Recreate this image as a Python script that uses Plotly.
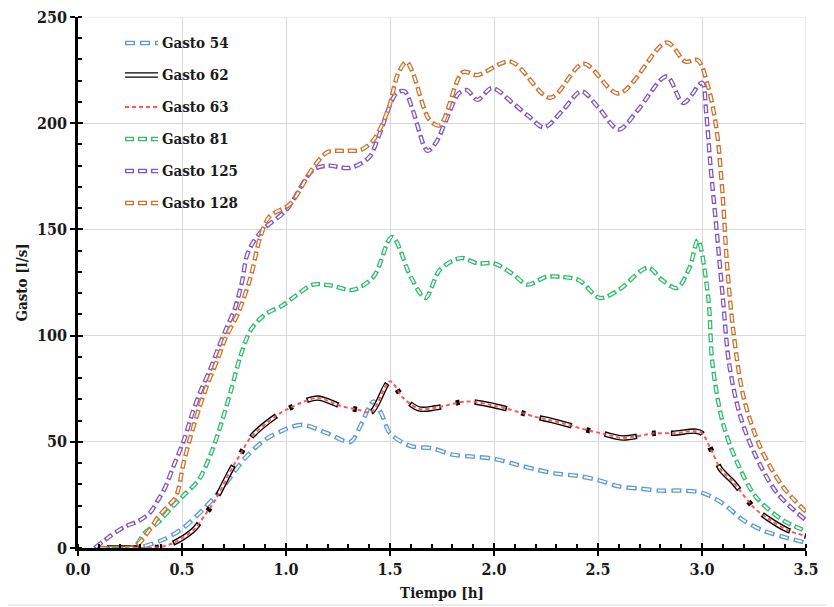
import plotly.graph_objects as go

# ---------------- data ----------------
t54 = [0.1, 0.2, 0.3, 0.4, 0.5, 0.6, 0.7, 0.8, 0.9, 1.0, 1.08, 1.2, 1.31, 1.36, 1.42, 1.46, 1.5,
       1.6, 1.7, 1.8, 1.9, 2.0, 2.1, 2.2, 2.3, 2.4, 2.5, 2.6, 2.7, 2.8, 2.9, 3.0, 3.1, 3.2, 3.3, 3.4, 3.5]
q54 = [0, 0, 0.5, 3.5, 9, 18, 29, 42, 51, 56, 58, 54, 50, 58, 69, 63, 54,
       48, 47, 44, 43, 42, 39.5, 37, 35, 34, 32, 29, 28, 27, 27, 26, 21, 13, 8, 5, 2.5]

t62 = [0.1, 0.2, 0.3, 0.4, 0.45, 0.5, 0.56, 0.61, 0.66, 0.735, 0.78, 0.83, 0.95, 1.02, 1.15, 1.26,
       1.35, 1.41, 1.5, 1.56, 1.64, 1.72, 1.87, 2.0, 2.12, 2.2, 2.28, 2.45, 2.53, 2.62, 2.77, 2.86,
       2.97, 3.0, 3.05, 3.09, 3.15, 3.25, 3.32, 3.41, 3.5]
q62 = [0, 0, 0, 0.5, 2, 4.5, 9, 15.5, 22.6, 36.7, 44, 52, 62, 66, 70.6, 67,
       65, 64, 78.5, 71, 65.5, 66, 69, 67, 64, 61.7, 60, 55.5, 53.7, 51.8, 54, 54,
       55, 54, 45, 37, 31, 19, 13.7, 8.5, 5.6]

t63 = list(t62)
q63 = [0, 0, 0, 0.5, 2, 4.5, 9, 15.5, 22.6, 36.7, 44, 52, 62, 66, 70.6, 67,
       65, 64, 78.5, 71, 65.5, 66, 69, 67, 64, 61.7, 60, 55.5, 53.7, 51.8, 54, 54,
       55, 54, 45, 37, 31, 19, 13.7, 8.5, 5.6]

t81 = [0.1, 0.2, 0.27, 0.32, 0.385, 0.45, 0.51, 0.58, 0.64, 0.69, 0.735, 0.78, 0.83, 0.9, 0.98,
       1.05, 1.13, 1.22, 1.32, 1.42, 1.51, 1.6, 1.67, 1.74, 1.84, 1.92, 2.0, 2.09, 2.16, 2.25, 2.33,
       2.41, 2.51, 2.6, 2.74, 2.81, 2.88, 2.94, 2.98, 3.03, 3.05, 3.1, 3.17, 3.26, 3.39, 3.5]
q81 = [0, 0, 0.5, 7, 12, 19, 25, 32, 44.7, 59, 74, 90, 102.6, 110, 114,
       119, 124, 123.5, 121.5, 127.6, 146.5, 127.6, 117.7, 131, 136.5, 134, 134, 129, 124, 127.6, 127.6,
       126, 117.7, 121.5, 132, 126, 122.4, 132, 145, 118, 87, 59, 40, 24, 13, 8]

t125 = [0.08, 0.16, 0.225, 0.29, 0.345, 0.385, 0.42, 0.457, 0.51, 0.55, 0.59, 0.635, 0.67, 0.71,
        0.755, 0.79, 0.81, 0.84, 0.89, 1.0, 1.13, 1.2, 1.31, 1.40, 1.45, 1.53, 1.57, 1.61, 1.68,
        1.72, 1.77, 1.83, 1.87, 1.92, 1.99, 2.09, 2.17, 2.24, 2.33, 2.42, 2.5, 2.6, 2.69, 2.83,
        2.91, 3.0, 3.02, 3.04, 3.07, 3.1, 3.13, 3.18, 3.25, 3.36, 3.5]
q125 = [0, 6, 10, 12.7, 16.5, 22.6, 28.7, 38, 51, 63.5, 74, 84, 93, 102.6,
        113, 126, 137, 143.6, 150, 159, 178, 180, 179, 184, 195, 214, 215, 206, 187,
        190.7, 201.5, 214, 215.6, 211, 216.6, 209.5, 203, 198, 206, 215, 207.6, 197, 206, 222,
        209.5, 219, 205, 181, 150, 118, 87, 63.5, 45, 26, 13]

t128 = [0.1, 0.27, 0.34, 0.385, 0.43, 0.47, 0.51, 0.54, 0.58, 0.625, 0.67, 0.71, 0.77, 0.83,
        0.875, 0.92, 1.02, 1.13, 1.2, 1.28, 1.36, 1.42, 1.49, 1.54, 1.58, 1.61, 1.69, 1.74, 1.85,
        1.92, 2.08, 2.27, 2.43, 2.6, 2.83, 2.92, 2.98, 3.03, 3.07, 3.1, 3.12, 3.15, 3.2, 3.28,
        3.39, 3.5]
q128 = [0, 0.5, 8, 14.6, 19.5, 24, 41, 52, 65, 77.7, 88.5, 99, 110.6, 127.6,
        146, 156, 162, 179, 186.4, 187, 187.4, 192, 206, 223.6, 228.8, 223.6, 201.5, 199, 224,
        222.7, 229, 212, 228, 214, 238, 229, 229.7, 217, 197, 165, 134, 102.6, 71, 47.5,
        28.7, 17]

series_names = ["Gasto 54", "Gasto 62", "Gasto 63", "Gasto 81", "Gasto 125", "Gasto 128"]
x_ticks = [0.0, 0.5, 1.0, 1.5, 2.0, 2.5, 3.0, 3.5]
y_ticks = [0, 50, 100, 150, 200, 250]

# ---------------- styles ----------------
C54, C81, C125, C128 = "#5B9BD5", "#2EBD6B", "#8155C6", "#D0702C"
C63 = "rgba(255,70,70,0.9)"
FONT = "DejaVu Serif Condensed, DejaVu Serif, serif"
SM = 0.9
GRID = "#d9d9d9"

WO, WI = 4.4, 1.9
DASH_OUT = "9px,4px"
DASH_IN = "0px,1.4px,6.2px,5.4px"
DASH54_OUT = "10px,5px"
DASH54_IN = "0px,1.4px,7.2px,6.4px"
DASH62_OUT = "0px,8px,33px,15px,4px,7px"
DASH62_IN = "0px,9.5px,30px,27.5px"

fig = go.Figure()


def add_line(x, y, color, width, dash):
    fig.add_trace(go.Scatter(x=x, y=y, mode="lines", showlegend=False, hoverinfo="skip",
                             line=dict(color=color, width=width, dash=dash,
                                       shape="spline", smoothing=SM)))


def hollow(x, y, color, dout, din, wout=WO, win=WI, inner="white"):
    add_line(x, y, color, wout, dout)
    add_line(x, y, inner, win, din)


hollow(t54, q54, C54, DASH54_OUT, DASH54_IN)
hollow(t62, q62, "black", DASH62_OUT, DASH62_IN, wout=5.5, win=2.8)
add_line(t63, q63, C63, 2, "4px,3px")
hollow(t81, q81, C81, DASH_OUT, DASH_IN)
hollow(t125, q125, C125, DASH_OUT, DASH_IN)
hollow(t128, q128, C128, DASH_OUT, DASH_IN)

# overlay axes to draw the inner half of the crossing major ticks
fig.add_trace(go.Scatter(x=[], y=[], xaxis="x2", yaxis="y2", showlegend=False))

# ---------------- geometry (page has an 8px body margin) ----------------
OFF = 8
FW, FH = 834 - OFF, 607 - OFF
L, T, W, H = 78 - OFF, 17 - OFF, 728, 531   # plot area in figure pixels


def px_x(p):  # page pixel -> paper
    return (p - OFF - L) / W


def px_y(p):
    return (T + H - (p - OFF)) / H


leg_rows = [43, 75, 107, 139, 171, 203]
leg_styles = [
    [(C54, WO, DASH54_OUT), ("white", WI, DASH54_IN)],
    [("black", 5.5, "solid"), ("white", 2.8, "solid")],
    [(C63, 2, "4px,3px")],
    [(C81, WO, DASH_OUT), ("white", WI, DASH_IN)],
    [(C125, WO, DASH_OUT), ("white", WI, DASH_IN)],
    [(C128, WO, DASH_OUT), ("white", WI, DASH_IN)],
]
shapes = []
annotations = []
for name, yrow, sty in zip(series_names, leg_rows, leg_styles):
    for col, w, d in sty:
        shapes.append(dict(type="line", xref="paper", yref="paper",
                           x0=px_x(125), x1=px_x(158), y0=px_y(yrow), y1=px_y(yrow),
                           line=dict(color=col, width=w, dash=d)))
    annotations.append(dict(text=name, xref="paper", yref="paper", x=px_x(160), y=px_y(yrow),
                            xanchor="left", yanchor="middle", showarrow=False,
                            font=dict(family=FONT, size=15, color="#1a1a1a", weight="bold")))

# gridlines on the plot edges (top at 250, right at 3.5)
shapes.append(dict(type="line", xref="x", yref="y", layer="below",
                   x0=x_ticks[0], x1=x_ticks[-1], y0=y_ticks[-1], y1=y_ticks[-1],
                   line=dict(color=GRID, width=1)))
shapes.append(dict(type="line", xref="x", yref="y", layer="below",
                   x0=x_ticks[-1], x1=x_ticks[-1], y0=y_ticks[0], y1=y_ticks[-1],
                   line=dict(color=GRID, width=1)))

# outer light frame (right and bottom edges are inside the page area)
shapes.append(dict(type="line", xref="paper", yref="paper", layer="below",
                   x0=px_x(832), x1=px_x(832), y0=px_y(605), y1=px_y(8),
                   line=dict(color=GRID, width=1)))
shapes.append(dict(type="line", xref="paper", yref="paper", layer="below",
                   x0=px_x(8), x1=px_x(832), y0=px_y(605), y1=px_y(605),
                   line=dict(color=GRID, width=1)))

tickfont = dict(family=FONT, size=16, color="#1a1a1a", weight="bold")
titlefont = dict(family=FONT, size=15, color="#1a1a1a", weight="bold")
fig.update_layout(
    width=FW, height=FH,
    margin=dict(l=L, r=FW - L - W, t=T, b=FH - T - H, autoexpand=False),
    paper_bgcolor="white", plot_bgcolor="white",
    showlegend=False,
    shapes=shapes, annotations=annotations,
    xaxis=dict(range=[0, 3.5], tickvals=x_ticks, tickformat=".1f",
               showgrid=True, gridcolor=GRID, gridwidth=1, zeroline=False,
               showline=True, linecolor="black", linewidth=2.5,
               ticks="outside", ticklen=5, tickwidth=2, tickcolor="black",
               minor=dict(dtick=0.1, tick0=0, ticks="inside", ticklen=4, tickwidth=1.5,
                          tickcolor="black", showgrid=False),
               tickfont=tickfont, automargin=False, ticklabeloverflow="allow",
               title=dict(text="Tiempo [h]", font=titlefont, standoff=10)),
    yaxis=dict(range=[0, 250], tickvals=y_ticks,
               showgrid=True, gridcolor=GRID, gridwidth=1, zeroline=False,
               showline=True, linecolor="black", linewidth=2.5,
               ticks="outside", ticklen=5, tickwidth=2, tickcolor="black",
               minor=dict(dtick=10, tick0=0, ticks="inside", ticklen=4, tickwidth=1.5,
                          tickcolor="black", showgrid=False),
               tickfont=tickfont, automargin=False, ticklabeloverflow="allow",
               title=dict(text="Gasto [l/s]", font=titlefont, standoff=6)),
    xaxis2=dict(range=[0, 3.5], overlaying="x", anchor="y", side="bottom",
                tickvals=x_ticks, ticks="inside", ticklen=5, tickwidth=2, tickcolor="black",
                showticklabels=False, showgrid=False, showline=False, zeroline=False),
    yaxis2=dict(range=[0, 250], overlaying="y", anchor="x", side="left",
                tickvals=y_ticks, ticks="inside", ticklen=5, tickwidth=2, tickcolor="black",
                showticklabels=False, showgrid=False, showline=False, zeroline=False),
)

fig.write_html("out.html")
